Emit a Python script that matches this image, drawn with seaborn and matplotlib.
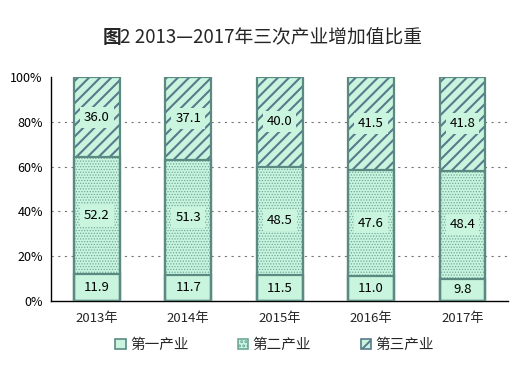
import pandas as pd
import numpy as np
import matplotlib
matplotlib.use("Agg")
import matplotlib.pyplot as plt
import matplotlib.patches as mpatches
import seaborn as sns

# --- 数据 ---
years = ["2013年", "2014年", "2015年", "2016年", "2017年"]
primary = [11.9, 11.7, 11.5, 11.0, 9.8]
secondary = [52.2, 51.3, 48.5, 47.6, 48.4]
tertiary = [36.0, 37.1, 40.0, 41.5, 41.8]
series_names = ["第一产业", "第二产业", "第三产业"]
y_ticks = [0, 20, 40, 60, 80, 100]

FILL = "#c9f5df"
EDGE = "#5b8a82"
DOT = "#6fa89a"
STRIPE = "#587a8c"

sns.set_theme(style="white")
plt.rcParams["font.family"] = ["Noto Sans CJK SC", "DejaVu Sans"]
plt.rcParams["hatch.linewidth"] = 1.4

df = pd.DataFrame({"year": years, "p": primary, "s": secondary, "t": tertiary})
df["c1"] = df["p"]
df["c2"] = df["p"] + df["s"]
df["c3"] = df["c2"] + df["t"]

fig = plt.figure(figsize=(5.16, 3.72), dpi=100)
ax = fig.add_axes([0.099, 0.191, 0.886, 0.602])

# 叠加法画堆叠柱：先画总高度，再依次覆盖
layers = [("c3", "///", STRIPE, 1.5), ("c2", "......", DOT, 0.6), ("c1", "", EDGE, 1.0)]
for col, hatch, hcol, hlw in layers:
    with plt.rc_context({"hatch.linewidth": hlw}):
        sns.barplot(data=df, x="year", y=col, order=years, color=FILL, width=0.5,
                    edgecolor=hcol, linewidth=0, hatch=hatch, saturation=1,
                    errorbar=None, ax=ax, zorder=2)
    # 外框
    sns.barplot(data=df, x="year", y=col, order=years, width=0.5,
                facecolor="none", edgecolor=EDGE, linewidth=1.6,
                errorbar=None, ax=ax, zorder=3)

# 数值标签
for i in range(len(years)):
    lo = 0
    for j, vals in enumerate([primary, secondary, tertiary]):
        v = vals[i]
        ax.text(i, lo + v / 2, f"{v:.1f}", ha="center", va="center", fontsize=9.5,
                color="black", zorder=5,
                bbox=dict(boxstyle="square,pad=0.3", facecolor=FILL, edgecolor="none")
                if j > 0 else None)
        lo += v

ax.set_xlim(-0.5, len(years) - 0.5)
ax.set_ylim(0, 100)
ax.set_yticks(y_ticks)
ax.set_yticklabels([f"{t}%" for t in y_ticks], fontsize=9)
ax.set_xlabel("")
ax.set_ylabel("")
ax.tick_params(axis="x", length=0, labelsize=9.5, pad=8)
ax.tick_params(axis="y", direction="in", length=4, width=1, colors="black", pad=6)
ax.set_xticks(np.arange(0.5, len(years)), minor=True)
ax.tick_params(axis="x", which="minor", direction="in", length=4, width=1, color="black")

for y in y_ticks[1:-1]:
    ax.axhline(y, color="#777777", linestyle=(0, (2, 4)), linewidth=0.8, zorder=1)

for s in ["top", "right"]:
    ax.spines[s].set_visible(False)
for s in ["left", "bottom"]:
    ax.spines[s].set_color("black")
    ax.spines[s].set_linewidth(1.0)

# 图例
handles = [
    mpatches.Patch(facecolor=FILL, edgecolor=EDGE, linewidth=1.2, label=series_names[0]),
    mpatches.Patch(facecolor=FILL, edgecolor=DOT, hatch="....", linewidth=1.2, label=series_names[1]),
    mpatches.Patch(facecolor=FILL, edgecolor=STRIPE, hatch="///", linewidth=1.2, label=series_names[2]),
]
fig.legend(handles=handles, loc="center", bbox_to_anchor=(0.532, 0.072), ncol=3,
           frameon=False, fontsize=10.5, handlelength=0.7, handleheight=0.7,
           handletextpad=0.3, columnspacing=3.4)

# 标题：“图”字加粗
fig.text(103 / 516, 0.898, "图", ha="left", va="center", fontsize=13.5, fontweight="bold")
fig.text(120 / 516, 0.898, "2 2013—2017年三次产业增加值比重", ha="left", va="center",
         fontsize=13.5)

fig.savefig("out.png", dpi=100)
